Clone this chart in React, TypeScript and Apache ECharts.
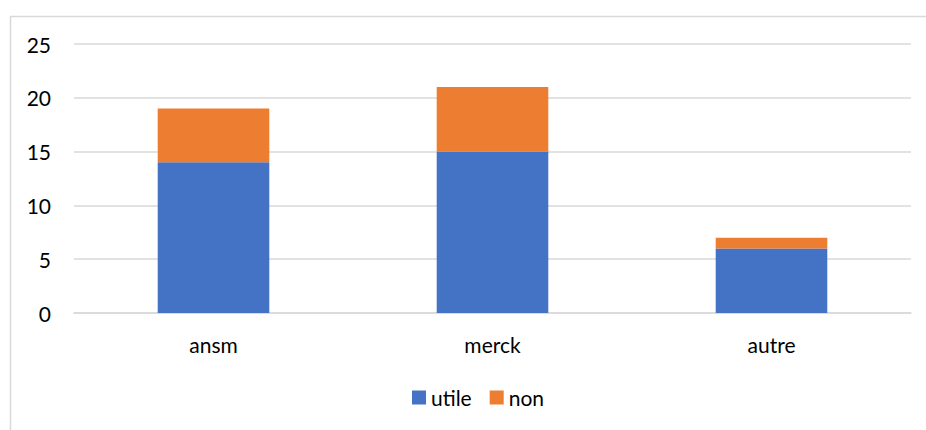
import React, { useEffect, useRef } from "react";
import * as echarts from "echarts";

const categories = ["ansm", "merck", "autre"];
const utile = [14, 15, 6];
const non = [5, 6, 1];
const yTicks = { min: 0, max: 25, interval: 5 };

export default function App() {
  const ref = useRef<HTMLDivElement>(null);
  useEffect(() => {
    if (!ref.current) return;
    const chart = echarts.init(ref.current, undefined, { renderer: "svg" });
    const font = "Lato, 'Open Sans', sans-serif";
    chart.setOption({
      animation: false,
      backgroundColor: "#ffffff",
      textStyle: { fontFamily: font },
      graphic: [
        {
          type: "rect",
          shape: { x: 10.5, y: 16.5, width: 1000, height: 600 },
          style: { fill: "none", stroke: "#d9d9d9", lineWidth: 1.5 },
          silent: true,
        },
      ],
      grid: { left: 74, right: 15, top: 44, bottom: 117, containLabel: false },
      xAxis: {
        type: "category",
        data: categories,
        axisLine: { show: true, lineStyle: { color: "#d9d9d9", width: 1.5 } },
        axisTick: { show: false },
        axisLabel: { color: "#000000", fontSize: 21, margin: 21, fontFamily: font },
      },
      yAxis: {
        type: "value",
        min: yTicks.min,
        max: yTicks.max,
        interval: yTicks.interval,
        axisLine: { show: false },
        axisTick: { show: false },
        axisLabel: { color: "#000000", fontSize: 21, margin: 23, fontFamily: font },
        splitLine: { lineStyle: { color: "#d9d9d9", width: 1.5 } },
      },
      legend: {
        top: 382,
        left: 407,
        icon: "rect",
        itemWidth: 14,
        itemHeight: 14,
        itemGap: 18,
        textStyle: { color: "#000000", fontSize: 21, fontFamily: font },
        data: ["utile", "non"],
      },
      series: [
        {
          name: "utile",
          type: "bar",
          stack: "total",
          data: utile,
          barWidth: "40%",
          itemStyle: { color: "#4472C4" },
        },
        {
          name: "non",
          type: "bar",
          stack: "total",
          data: non,
          barWidth: "40%",
          itemStyle: { color: "#ED7D31" },
        },
      ],
    });
    return () => chart.dispose();
  }, []);
  return (
    <div
      ref={ref}
      style={{ position: "fixed", left: 0, top: 0, width: 926, height: 430 }}
    />
  );
}
